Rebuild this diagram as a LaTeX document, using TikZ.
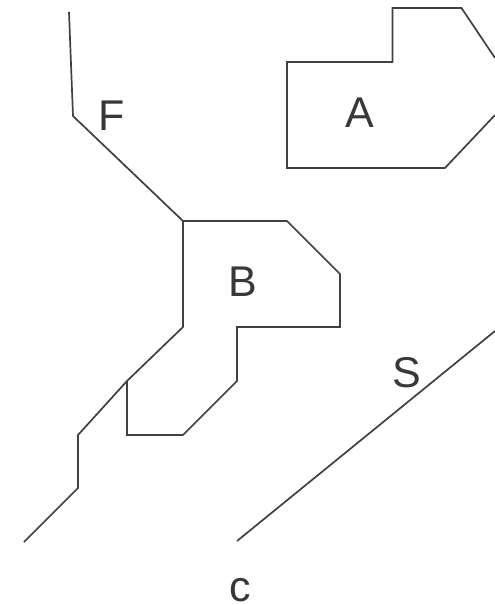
\documentclass[tikz,border=0pt]{standalone}
\usepackage{fontspec}
\setmainfont{Liberation Sans}
\tikzset{outline/.style={draw=black!75,line width=1.7pt,line join=miter},
lab/.style={font=\fontsize{43}{43}\selectfont,text=black!78,inner sep=0pt}}
\begin{document}
\begin{tikzpicture}[x=1pt,y=-1pt]
\useasboundingbox (0,0) rectangle (495,605);
\draw[outline] (69,12) -- (73,116) -- (183,221) -- (287,221) -- (340,274) -- (340,327) -- (237,327) -- (237,381) -- (183,435) -- (127,435) -- (127,381);
\draw[outline] (183,221) -- (183,327) -- (127,381) -- (78,435) -- (78,488) -- (24,542);
\draw[outline] (495,58) -- (461.5,8) -- (392.5,8) -- (392.5,62) -- (287,62) -- (287,168) -- (445,168) -- (495,115);
\draw[outline] (237,541) -- (495,331);
\node[lab] (a) at (360,113) {A};
\node[lab] (b) at (243,282) {B};
\node[lab] (f) at (112,116) {F};
\node[lab] (s) at (407,373) {S};
\node[lab] (c) at (240,590) {c};
\end{tikzpicture}
\end{document}
